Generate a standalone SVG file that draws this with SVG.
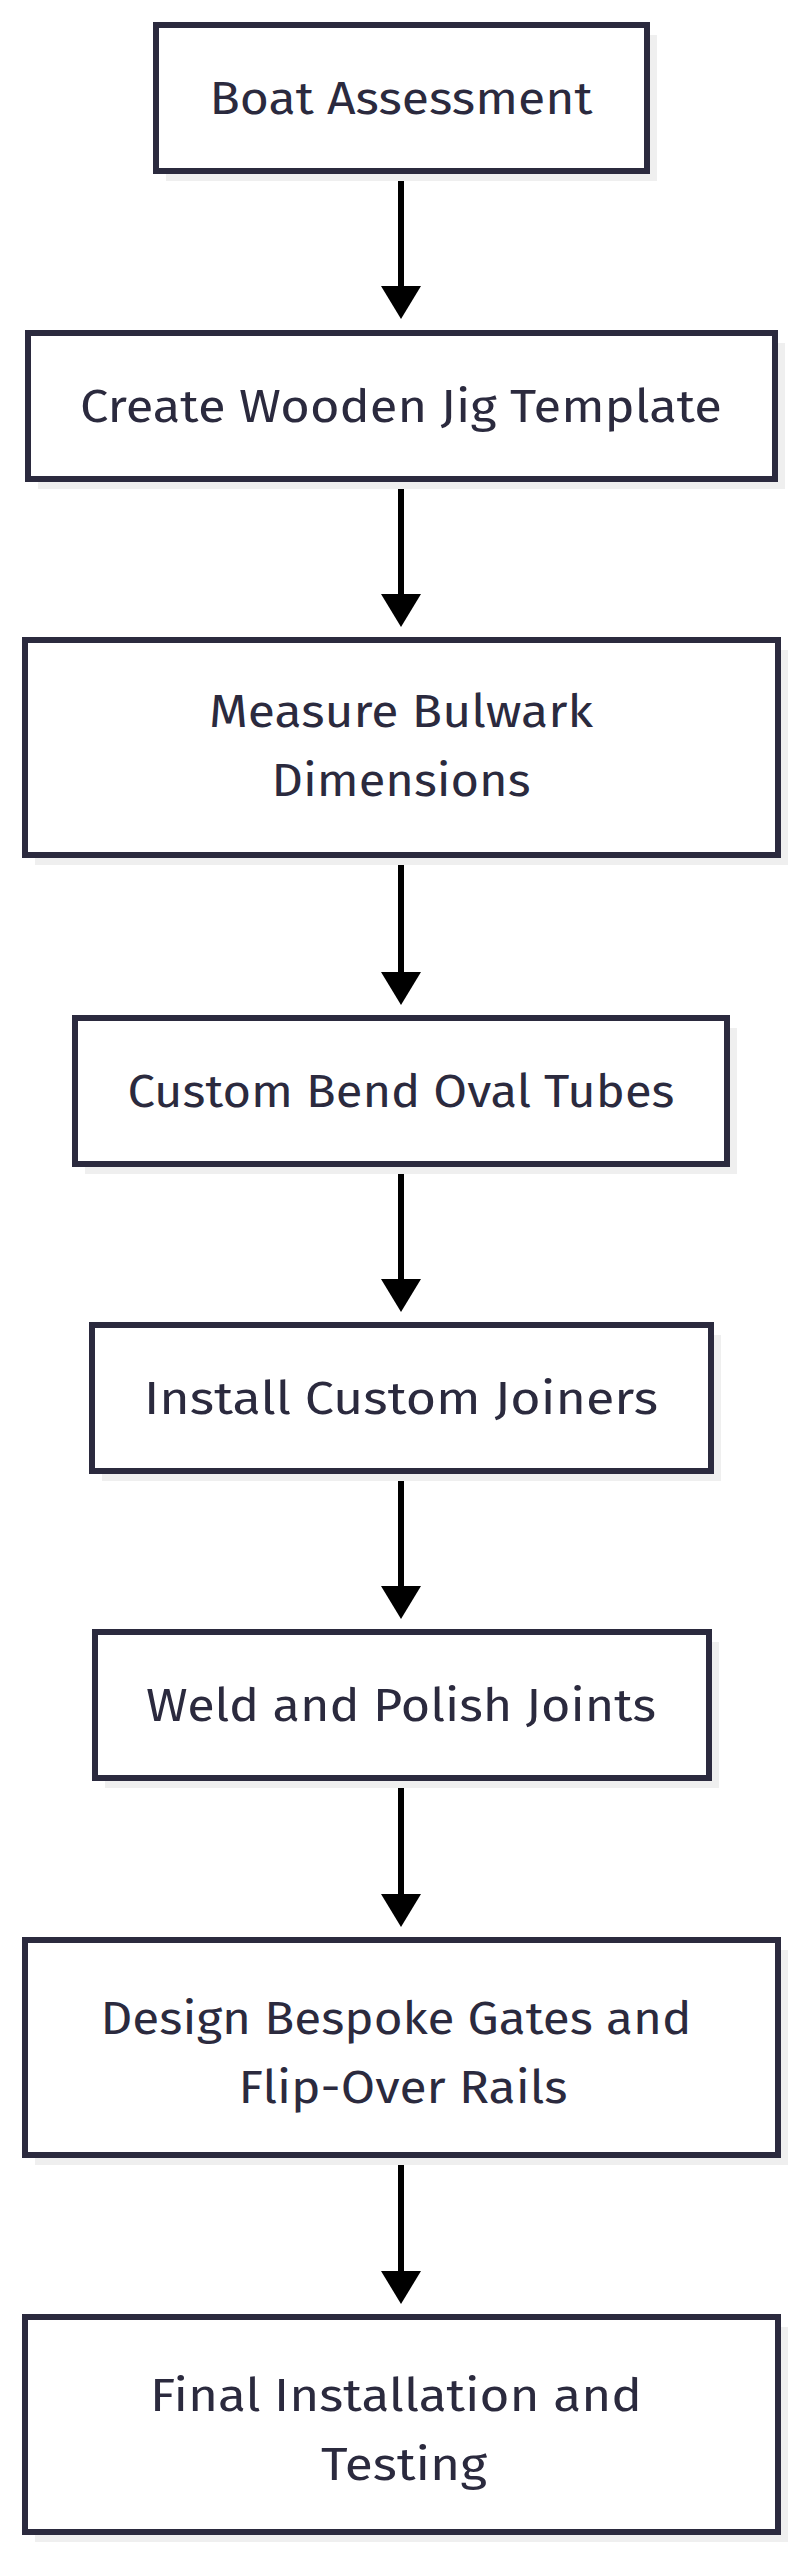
<svg xmlns="http://www.w3.org/2000/svg" width="805" height="2560" viewBox="0 0 805 2560">
<style>
.sh{fill:#efefef}
.bx{fill:#fff;stroke:#2b2a3e;stroke-width:6}
.t{font-family:"Fira Sans","Noto Sans","Liberation Sans",sans-serif;font-size:46px;fill:#2b2a3e;text-anchor:middle}
.e{stroke:#000;stroke-width:6;fill:none}
</style>
<g id="edges">
<path class="e" d="M401,168 V286"/><path d="M381,286 H421 L401,319 Z"/>
<path class="e" d="M401,476 V594"/><path d="M381,594 H421 L401,627 Z"/>
<path class="e" d="M401,852 V972"/><path d="M381,972 H421 L401,1005 Z"/>
<path class="e" d="M401,1161 V1279"/><path d="M381,1279 H421 L401,1312 Z"/>
<path class="e" d="M401,1468 V1586"/><path d="M381,1586 H421 L401,1619 Z"/>
<path class="e" d="M401,1775 V1894"/><path d="M381,1894 H421 L401,1927 Z"/>
<path class="e" d="M401,2152 V2271"/><path d="M381,2271 H421 L401,2304 Z"/>
</g>
<g id="n1"><rect class="sh" x="166" y="35" width="491" height="146"/><rect class="bx" x="156" y="25" width="491" height="146"/><text class="t" x="401" y="114" textLength="383" lengthAdjust="spacingAndGlyphs">Boat Assessment</text></g>
<g id="n2"><rect class="sh" x="38" y="343" width="747" height="146"/><rect class="bx" x="28" y="333" width="747" height="146"/><text class="t" x="401" y="422" textLength="642" lengthAdjust="spacingAndGlyphs">Create Wooden Jig Template</text></g>
<g id="n3"><rect class="sh" x="35" y="650" width="753" height="215"/><rect class="bx" x="25" y="640" width="753" height="215"/><text class="t" x="401" y="727" textLength="384" lengthAdjust="spacingAndGlyphs">Measure Bulwark</text><text class="t" x="401" y="796" textLength="259" lengthAdjust="spacingAndGlyphs">Dimensions</text></g>
<g id="n4"><rect class="sh" x="85" y="1028" width="652" height="146"/><rect class="bx" x="75" y="1018" width="652" height="146"/><text class="t" x="401" y="1107" textLength="547" lengthAdjust="spacingAndGlyphs">Custom Bend Oval Tubes</text></g>
<g id="n5"><rect class="sh" x="102" y="1335" width="619" height="146"/><rect class="bx" x="92" y="1325" width="619" height="146"/><text class="t" x="401" y="1414" textLength="514" lengthAdjust="spacingAndGlyphs">Install Custom Joiners</text></g>
<g id="n6"><rect class="sh" x="105" y="1642" width="614" height="146"/><rect class="bx" x="95" y="1632" width="614" height="146"/><text class="t" x="401" y="1721" textLength="510" lengthAdjust="spacingAndGlyphs">Weld and Polish Joints</text></g>
<g id="n7"><rect class="sh" x="35" y="1950" width="753" height="215"/><rect class="bx" x="25" y="1940" width="753" height="215"/><text class="t" x="396" y="2034" textLength="591" lengthAdjust="spacingAndGlyphs">Design Bespoke Gates and</text><text class="t" x="403" y="2103" textLength="329" lengthAdjust="spacingAndGlyphs">Flip-Over Rails</text></g>
<g id="n8"><rect class="sh" x="35" y="2327" width="753" height="215"/><rect class="bx" x="25" y="2317" width="753" height="215"/><text class="t" x="396" y="2411" textLength="492" lengthAdjust="spacingAndGlyphs">Final Installation and</text><text class="t" x="404" y="2480" textLength="166" lengthAdjust="spacingAndGlyphs">Testing</text></g>
</svg>
